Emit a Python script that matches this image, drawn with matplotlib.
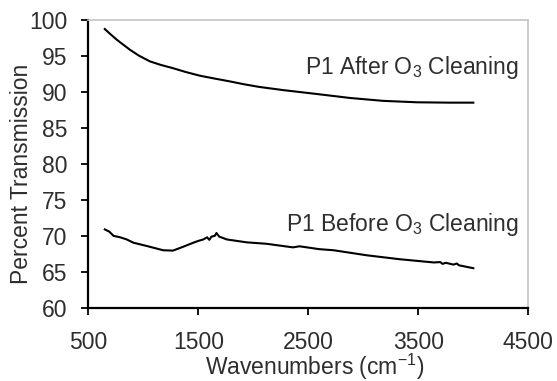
import matplotlib
matplotlib.use("Agg")
import matplotlib.pyplot as plt

plt.rcParams['font.family'] = ['Liberation Sans', 'DejaVu Sans']
plt.rcParams['mathtext.fontset'] = 'custom'
plt.rcParams['mathtext.rm'] = 'Liberation Sans'
plt.rcParams['mathtext.it'] = 'Liberation Sans'

# ---- data ----
after_wn = [650, 700, 760, 820, 880, 960, 1060, 1160, 1270, 1390, 1515,
            1650, 1790, 1920, 2050, 2270, 2580, 2880, 3180, 3490, 3790, 4000]
after_pt = [98.8, 98.1, 97.3, 96.6, 95.9, 95.1, 94.3, 93.8, 93.35, 92.8, 92.3,
            91.9, 91.5, 91.1, 90.75, 90.3, 89.75, 89.2, 88.8, 88.6, 88.55, 88.55]

before_wn = [650, 690, 730, 790, 850, 910, 1030, 1180, 1270, 1365, 1455,
             1500, 1545, 1580, 1600, 1620, 1650, 1665, 1690, 1760, 1940,
             2120, 2360, 2420, 2600, 2730, 3030, 3330, 3640, 3700, 3720,
             3750, 3820, 3850, 3870, 4000]
before_pt = [70.9, 70.6, 70.0, 69.8, 69.5, 69.05, 68.6, 68.0, 67.95, 68.5,
             69.05, 69.3, 69.5, 69.8, 69.45, 69.9, 70.0, 70.4, 69.9, 69.5,
             69.1, 68.9, 68.4, 68.55, 68.15, 68.0, 67.3, 66.75, 66.3, 66.35,
             66.1, 66.25, 66.0, 66.15, 65.9, 65.5]

x_ticks = [500, 1500, 2500, 3500, 4500]
y_ticks = [60, 65, 70, 75, 80, 85, 90, 95, 100]

txt = '#2e2e2e'
fs = 16.5

fig = plt.figure(figsize=(5.57, 3.81), dpi=100)
ax = fig.add_axes([0.1585, 0.1924, 0.79, 0.754])

ax.plot(after_wn, after_pt, color='black', lw=1.5)
ax.plot(before_wn, before_pt, color='black', lw=1.5)

ax.set_xlim(500, 4500)
ax.set_ylim(60, 100)
ax.set_xticks(x_ticks)
ax.set_yticks(y_ticks)
ax.tick_params(direction='out', length=5, width=1.3, labelsize=fs,
               colors='black', labelcolor=txt)
ax.tick_params(axis='x', pad=12)
ax.tick_params(axis='y', pad=10)

for side in ['left', 'bottom']:
    ax.spines[side].set_linewidth(1.6)
    ax.spines[side].set_color('black')
for side in ['top', 'right']:
    ax.spines[side].set_linewidth(1.2)
    ax.spines[side].set_color('#c4c4c4')

ax.set_xlabel('Wavenumbers (cm$^{-1}$)', fontsize=fs, color=txt)
ax.set_ylabel('Percent Transmission', fontsize=fs, color=txt)
ax.xaxis.set_label_coords(0.515, -0.155)
ax.yaxis.set_label_coords(-0.126, 0.4655)

ax.text(4418, 93.4, 'P1 After O$_3$ Cleaning', ha='right', va='center',
        fontsize=fs, color=txt)
ax.text(4418, 71.6, 'P1 Before O$_3$ Cleaning', ha='right', va='center',
        fontsize=fs, color=txt)

fig.savefig('out.png', dpi=100)
